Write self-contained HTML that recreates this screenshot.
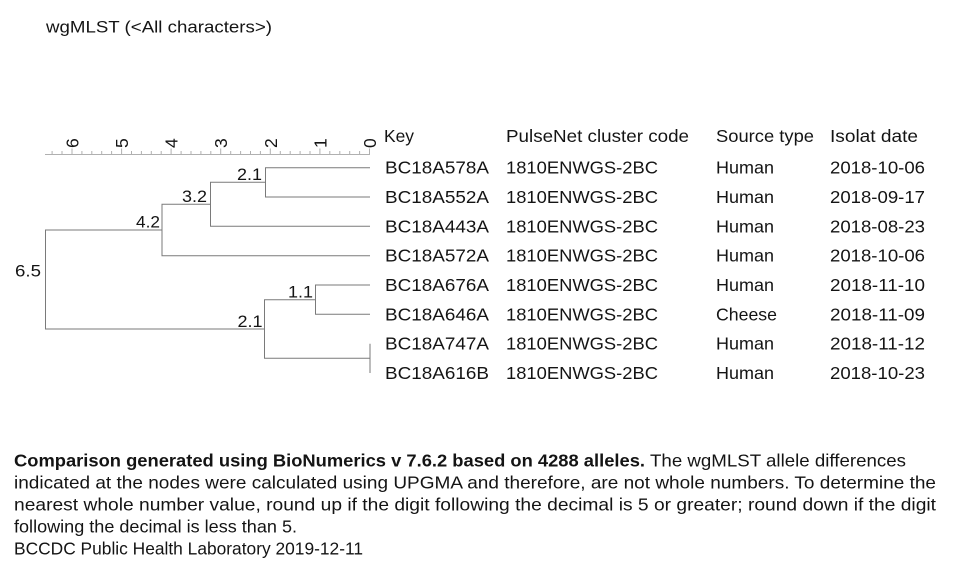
<!DOCTYPE html>
<html><head><meta charset="utf-8"><style>
html,body{margin:0;padding:0;background:#fff;}
svg{display:block;}
text{font-family:"Liberation Sans",sans-serif;fill:#141414;}
</style></head><body>
<svg width="980" height="584" viewBox="0 0 980 584" xmlns="http://www.w3.org/2000/svg">
<text x="46" y="32.5" font-size="17" textLength="226" lengthAdjust="spacingAndGlyphs">wgMLST (&lt;All characters&gt;)</text>

<!-- axis -->
<g stroke="#b0b0b0" stroke-width="1" fill="none">
<line x1="45" y1="154.5" x2="370" y2="154.5"/>
<path d="M369.5 154V148.5M359.6 154V151M349.7 154V151M339.8 154V151M329.8 154V151M319.9 154V148.5M310 154V151M300.1 154V151M290.2 154V151M280.3 154V151M270.3 154V148.5M260.4 154V151M250.5 154V151M240.6 154V151M230.7 154V151M220.7 154V148.5M210.8 154V151M200.9 154V151M191 154V151M181.1 154V151M171.1 154V148.5M161.2 154V151M151.3 154V151M141.4 154V151M131.5 154V151M121.6 154V148.5M111.6 154V151M101.7 154V151M91.8 154V151M81.9 154V151M72 154V148.5M62 154V151M52.1 154V151"/>
</g>
<g font-size="17.5">
<text transform="translate(376,148) rotate(-90)">0</text>
<text transform="translate(326.4,148) rotate(-90)">1</text>
<text transform="translate(276.8,148) rotate(-90)">2</text>
<text transform="translate(227.2,148) rotate(-90)">3</text>
<text transform="translate(177.6,148) rotate(-90)">4</text>
<text transform="translate(128.1,148) rotate(-90)">5</text>
<text transform="translate(78.5,148) rotate(-90)">6</text>
</g>

<!-- tree -->
<g stroke="#7a7a7a" stroke-width="1" fill="none">
<path d="M370 167.7H265.5V197H370"/>
<path d="M265.5 182.3H210.5V226.3H370"/>
<path d="M210.5 204.3H162V255.7H370"/>
<path d="M162 230H45.5V329H264.5"/>
<path d="M370 285H315.5V314.3H370"/>
<path d="M315.5 299.7H264.5V358.3H370"/>
<path d="M370 343.7V373"/>
</g>
<g font-size="17">
<text x="237" y="180" textLength="25" lengthAdjust="spacingAndGlyphs">2.1</text>
<text x="182" y="202" textLength="25" lengthAdjust="spacingAndGlyphs">3.2</text>
<text x="136" y="227.5" textLength="24" lengthAdjust="spacingAndGlyphs">4.2</text>
<text x="15" y="276.5" textLength="26" lengthAdjust="spacingAndGlyphs">6.5</text>
<text x="288" y="297.5" textLength="25" lengthAdjust="spacingAndGlyphs">1.1</text>
<text x="237.5" y="327" textLength="25" lengthAdjust="spacingAndGlyphs">2.1</text>
</g>

<!-- table -->
<g font-size="17.5">
<text x="384" y="142" textLength="30" lengthAdjust="spacingAndGlyphs">Key</text>
<text x="506" y="142" textLength="183" lengthAdjust="spacingAndGlyphs">PulseNet cluster code</text>
<text x="716" y="142" textLength="98" lengthAdjust="spacingAndGlyphs">Source type</text>
<text x="830" y="142" textLength="88" lengthAdjust="spacingAndGlyphs">Isolat date</text>

<text x="385" y="173.7" textLength="104" lengthAdjust="spacingAndGlyphs">BC18A578A</text>
<text x="506" y="173.7" textLength="152" lengthAdjust="spacingAndGlyphs">1810ENWGS-2BC</text>
<text x="716" y="173.7" textLength="58" lengthAdjust="spacingAndGlyphs">Human</text>
<text x="830" y="173.7" textLength="95" lengthAdjust="spacingAndGlyphs">2018-10-06</text>

<text x="385" y="203" textLength="104" lengthAdjust="spacingAndGlyphs">BC18A552A</text>
<text x="506" y="203" textLength="152" lengthAdjust="spacingAndGlyphs">1810ENWGS-2BC</text>
<text x="716" y="203" textLength="58" lengthAdjust="spacingAndGlyphs">Human</text>
<text x="830" y="203" textLength="95" lengthAdjust="spacingAndGlyphs">2018-09-17</text>

<text x="385" y="232.3" textLength="104" lengthAdjust="spacingAndGlyphs">BC18A443A</text>
<text x="506" y="232.3" textLength="152" lengthAdjust="spacingAndGlyphs">1810ENWGS-2BC</text>
<text x="716" y="232.3" textLength="58" lengthAdjust="spacingAndGlyphs">Human</text>
<text x="830" y="232.3" textLength="95" lengthAdjust="spacingAndGlyphs">2018-08-23</text>

<text x="385" y="261.7" textLength="104" lengthAdjust="spacingAndGlyphs">BC18A572A</text>
<text x="506" y="261.7" textLength="152" lengthAdjust="spacingAndGlyphs">1810ENWGS-2BC</text>
<text x="716" y="261.7" textLength="58" lengthAdjust="spacingAndGlyphs">Human</text>
<text x="830" y="261.7" textLength="95" lengthAdjust="spacingAndGlyphs">2018-10-06</text>

<text x="385" y="291" textLength="104" lengthAdjust="spacingAndGlyphs">BC18A676A</text>
<text x="506" y="291" textLength="152" lengthAdjust="spacingAndGlyphs">1810ENWGS-2BC</text>
<text x="716" y="291" textLength="58" lengthAdjust="spacingAndGlyphs">Human</text>
<text x="830" y="291" textLength="95" lengthAdjust="spacingAndGlyphs">2018-11-10</text>

<text x="385" y="320.3" textLength="104" lengthAdjust="spacingAndGlyphs">BC18A646A</text>
<text x="506" y="320.3" textLength="152" lengthAdjust="spacingAndGlyphs">1810ENWGS-2BC</text>
<text x="716" y="320.3" textLength="61" lengthAdjust="spacingAndGlyphs">Cheese</text>
<text x="830" y="320.3" textLength="95" lengthAdjust="spacingAndGlyphs">2018-11-09</text>

<text x="385" y="349.7" textLength="104" lengthAdjust="spacingAndGlyphs">BC18A747A</text>
<text x="506" y="349.7" textLength="152" lengthAdjust="spacingAndGlyphs">1810ENWGS-2BC</text>
<text x="716" y="349.7" textLength="58" lengthAdjust="spacingAndGlyphs">Human</text>
<text x="830" y="349.7" textLength="95" lengthAdjust="spacingAndGlyphs">2018-11-12</text>

<text x="385" y="379" textLength="104" lengthAdjust="spacingAndGlyphs">BC18A616B</text>
<text x="506" y="379" textLength="152" lengthAdjust="spacingAndGlyphs">1810ENWGS-2BC</text>
<text x="716" y="379" textLength="58" lengthAdjust="spacingAndGlyphs">Human</text>
<text x="830" y="379" textLength="95" lengthAdjust="spacingAndGlyphs">2018-10-23</text>
</g>

<!-- footer -->
<g font-size="17.5">
<text x="14" y="466.5" font-weight="bold" textLength="631" lengthAdjust="spacingAndGlyphs">Comparison generated using BioNumerics v 7.6.2 based on 4288 alleles.</text>
<text x="650" y="466.5" textLength="256" lengthAdjust="spacingAndGlyphs">The wgMLST allele differences</text>
<text x="14" y="488.5" textLength="922" lengthAdjust="spacingAndGlyphs">indicated at the nodes were calculated using UPGMA and therefore, are not whole numbers. To determine the</text>
<text x="14" y="510.5" textLength="922" lengthAdjust="spacingAndGlyphs">nearest whole number value, round up if the digit following the decimal is 5 or greater; round down if the digit</text>
<text x="14" y="532.5" textLength="283" lengthAdjust="spacingAndGlyphs">following the decimal is less than 5.</text>
<text x="14" y="554.5" textLength="349" lengthAdjust="spacingAndGlyphs">BCCDC Public Health Laboratory 2019-12-11</text>
</g>
</svg>
</body></html>
